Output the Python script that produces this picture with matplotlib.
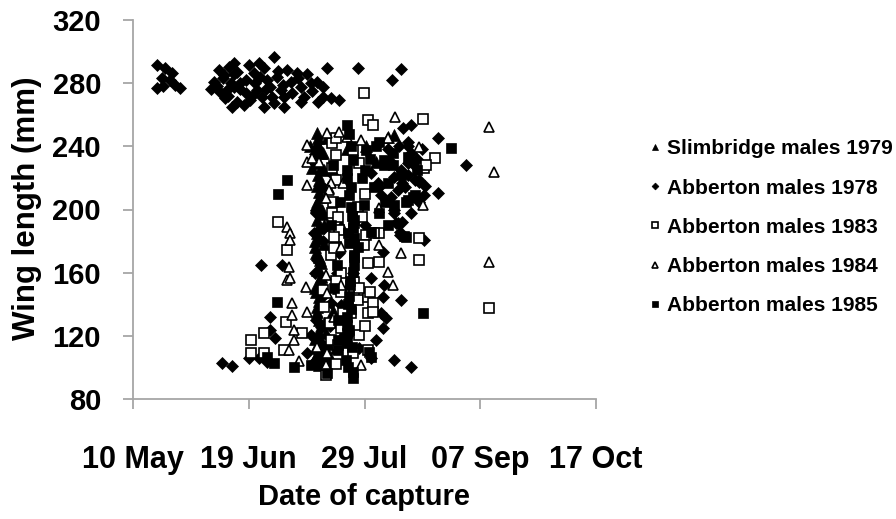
import matplotlib
matplotlib.use("Agg")
from matplotlib import pyplot as plt

plt.rcParams['font.family'] = ['Liberation Sans', 'DejaVu Sans']
plt.rcParams['font.weight'] = 'bold'

# x = days after 10 May, y = wing length (mm)
tick_days = [0, 40, 80, 120, 160]
tick_dates = ['10 May', '19 Jun', '29 Jul', '07 Sep', '17 Oct']
mm_ticks = [80, 120, 160, 200, 240, 280, 320]

slim79_day = [63.7, 64.3, 64.3, 64.3, 64.3, 63.7, 63.7, 63.7, 63.1, 64.9, 64.3, 63.7,
              64.3, 64.3, 63.7, 64.3, 64.3, 63.7, 64.9, 64.3, 67.2, 65.5, 66.0, 65.2,
              62.8, 66.0, 65.0, 62.9, 66.0, 63.0, 66.5, 62.5, 68.0, 70.0, 72.0, 69.0,
              71.0, 72.0, 74.0, 80.5, 84.0, 88.0, 90.3, 66.0, 67.5, 61.0, 62.0,
              64.0, 63.5, 64.8, 63.2, 65.0, 64.0, 63.6, 64.6, 63.4, 65.2, 63.8, 64.4,
              63.0, 64.7, 63.9, 65.1, 63.3, 64.2, 63.7, 64.9, 63.5, 64.1, 63.8,
              66.5, 67.3, 66.8, 67.6]
slim79_mm = [248.2, 239.8, 229.2, 218.7, 211.3, 204.9, 193.3, 184.9, 172.3, 165.9, 170.1, 161.7,
             153.3, 144.8, 138.4, 130.0, 122.6, 114.2, 106.8, 101.5, 245.0, 236.0, 225.0, 200.0,
             180.0, 178.0, 158.0, 150.0, 128.0, 118.0, 110.0, 105.0, 104.0, 112.0, 120.0, 136.0,
             150.0, 190.0, 238.0, 240.0, 230.0, 246.0, 247.0, 190.0, 214.0, 240.0, 226.0,
             245.0, 242.0, 236.0, 232.0, 226.0, 222.0, 215.0, 208.0, 202.0, 197.0, 188.0, 182.0,
             176.0, 168.0, 163.0, 157.0, 148.0, 142.0, 135.0, 126.0, 119.0, 110.0, 103.0,
             103.0, 115.0, 122.0, 108.0]

abb78_day = [8.3, 11.1, 13.5, 10.1, 12.8, 8.3, 10.4, 14.6, 16.3,
             27.9, 29.6, 31.3, 33.1, 34.8, 36.0, 33.7, 30.2, 31.9, 34.2, 38.3, 40.0, 41.7,
             43.5, 45.2, 46.4, 48.7, 47.5, 49.9, 51.0, 52.1, 53.3, 54.5, 56.8, 57.9, 59.1,
             61.4, 63.7, 65.5, 67.2, 65.5, 68.3, 71.2, 38.9, 40.6, 42.9, 44.6, 45.2, 48.7,
             52.1, 37.1, 34.8, 32.5, 77.7, 89.5, 92.6,
             29.0, 31.0, 35.0, 37.0, 39.0, 42.0, 44.0, 46.0, 50.0, 52.0, 55.0, 57.0, 60.0,
             62.0, 64.0, 58.0, 48.0, 41.0, 36.0, 33.0, 27.0,
             44.1, 51.6, 47.5, 47.3, 48.9, 40.0, 43.5, 46.4, 30.8, 34.2, 63.1, 63.7, 68.3,
             64.9, 61.4, 60.2, 64.9, 71.8, 71.2, 66.0,
             62.8, 65.3, 63.4, 65.6, 62.9, 65.0, 63.2, 65.4, 63.0,
             93.2, 96.1, 105.4, 115.2, 105.4, 100.7, 99.0, 90.3, 92.6, 94.9, 97.3, 91.5,
             96.1, 82.2, 84.5, 85.7, 90.3, 91.5, 92.1, 100.7, 99.0, 90.3, 90.9, 92.1, 85.1,
             94.9, 88.0, 92.0, 97.0, 94.0, 80.0,
             89.0, 93.0, 95.0, 98.0, 99.0, 96.0, 93.0, 89.0, 95.0, 100.0, 101.0,
             82.2, 86.8, 86.3, 92.6, 85.7, 87.4, 86.3, 84.0, 82.2, 90.3, 96.1, 86.3, 76.0,
             74.0, 78.0, 62.5, 65.5, 63.5, 69.0, 70.5, 68.0]
abb78_mm = [291.5, 289.6, 286.4, 283.3, 282.0, 277.0, 278.2, 278.8, 277.0,
            281.0, 288.3, 285.2, 290.4, 292.5, 287.3, 280.0, 274.6, 270.4, 265.1, 266.2, 291.5, 286.2,
            292.5, 289.4, 282.0, 296.8, 277.8, 284.1, 275.7, 271.4, 288.3, 281.0, 286.2, 277.8, 271.4,
            280.0, 281.0, 277.8, 289.4, 271.4, 270.4, 269.3, 273.5, 269.3, 275.7, 271.4, 265.1, 267.2,
            265.1, 280.0, 277.8, 275.7, 289.6, 282.0, 288.9,
            278.0, 283.0, 286.0, 276.0, 282.0, 280.0, 284.0, 276.0, 288.0, 279.0, 274.0, 283.0, 286.0,
            275.0, 268.0, 268.0, 271.0, 272.0, 268.0, 272.0, 276.0,
            164.8, 164.8, 132.1, 123.7, 118.4, 105.8, 105.8, 103.6, 102.6, 100.9, 197.6, 168.0, 140.5,
            125.8, 120.5, 108.9, 152.2, 139.5, 172.3, 188.0,
            235.0, 215.0, 200.0, 180.0, 160.0, 145.0, 130.0, 115.0, 104.0,
            251.4, 253.5, 245.0, 228.2, 210.2, 209.2, 218.7, 220.8, 225.0, 229.2, 218.7, 212.3,
            235.6, 222.9, 216.5, 209.2, 197.6, 191.3, 183.8, 180.7, 217.7, 199.7, 191.3, 186.0, 214.4,
            243.0, 238.0, 240.0, 228.0, 214.0, 190.0,
            230.0, 217.0, 222.0, 232.0, 205.0, 198.0, 192.0, 208.0, 240.0, 238.0, 215.0,
            156.4, 152.2, 144.8, 142.7, 134.3, 131.1, 124.7, 117.4, 105.8, 104.7, 100.5, 173.3, 160.0,
            120.0, 112.0, 185.0, 145.0, 110.0, 222.0, 160.0, 126.0]

abb83_day = [79.9, 81.1, 82.8, 100.2, 122.9, 50.1, 53.3, 40.8, 45.2, 40.8, 45.2, 52.7,
             58.5, 52.1, 68.9, 70.1, 68.9, 70.1, 68.9, 75.9, 78.2, 77.6, 76.4, 71.2,
             70.1, 80.5, 85.1, 99.0, 99.0, 104.2, 100.7, 68.3, 81.1, 85.1, 69.5, 69.5,
             101.3, 83.4, 79.9, 76.4, 76.4, 77.6, 81.1, 82.8, 81.1, 82.8, 75.3, 78.2,
             81.1, 75.9, 65.5, 71.8, 66.0, 72.4, 68.3, 70.7, 66.6,
             70.0, 69.0, 71.0, 72.0, 70.0, 68.0, 72.0, 70.0, 79.0, 80.0, 78.0, 82.0, 80.0]
abb83_mm = [274.0, 256.7, 253.5, 257.1, 137.4, 192.3, 174.3, 117.4, 121.6, 108.9, 108.9, 128.9,
            121.6, 111.0, 241.8, 234.5, 226.0, 218.7, 197.6, 237.7, 229.2, 201.8, 191.3, 187.0,
            176.5, 183.8, 184.9, 181.8, 168.0, 232.4, 226.0, 171.2, 165.9, 166.9, 182.8, 175.4,
            228.2, 184.9, 177.5, 154.3, 147.9, 142.7, 144.8, 140.5, 134.3, 135.3, 134.3, 120.5,
            111.0, 108.9, 149.0, 147.9, 138.4, 134.3, 117.4, 114.2, 95.2,
            245.0, 205.0, 195.0, 160.0, 155.0, 128.0, 125.0, 102.0, 195.0, 210.0, 150.0, 148.0, 126.0]

abb84_day = [60.0, 60.0, 60.0, 53.3, 54.2, 54.2, 53.3, 55.1, 60.2, 55.1, 55.6, 55.6,
             53.9, 59.7, 53.9, 54.2, 90.5, 122.9, 124.8, 122.9, 67.2, 71.2, 74.1, 78.8,
             88.0, 99.0, 64.3, 85.1, 100.2, 92.6, 84.9, 88.0, 90.0, 78.8, 62.0, 68.3,
             67.8, 66.6, 72.4, 71.8, 66.6, 67.2, 71.8, 69.5, 63.7, 67.2, 66.6, 57.5]
abb84_mm = [240.8, 230.3, 215.5, 189.1, 185.0, 180.7, 155.4, 140.8, 135.3, 133.2, 123.7, 117.4,
            111.0, 151.1, 163.7, 156.4, 258.4, 252.4, 223.9, 166.9, 248.2, 249.3, 246.1, 244.0,
            245.0, 239.8, 230.3, 200.7, 202.8, 172.3, 177.5, 160.6, 152.2, 101.5, 232.4, 216.6,
            212.3, 207.0, 216.6, 176.5, 158.5, 146.9, 152.2, 132.1, 113.2, 108.9, 101.5, 104.0]

abb85_day = [53.1, 50.1, 49.8, 46.4, 48.7, 55.6, 61.4, 67.2, 74.1, 110.0, 85.1, 86.8,
             80.5, 75.9, 74.1, 75.3, 74.7, 75.3, 76.4, 74.7, 77.6, 76.4, 79.9, 94.9,
             97.3, 93.8, 90.3, 86.8, 94.9, 92.6, 96.7, 94.4, 82.2, 76.4, 94.4, 88.0,
             83.4, 100.2, 75.9, 74.1, 74.1, 74.1, 74.1, 75.9, 76.4, 81.6, 82.2, 70.7,
             70.7, 70.7, 74.5, 75.0, 73.5, 76.0, 79.0, 90.0, 98.0,
             74.6, 75.2, 74.0, 75.8, 74.4, 76.2, 75.0, 74.3, 75.5, 74.8, 75.7, 74.2, 76.0,
             82.0, 84.0, 80.0, 85.0, 87.0, 90.0, 88.0,
             69.0, 71.5, 68.5, 70.5, 69.5]
abb85_mm = [218.7, 209.8, 141.6, 106.8, 102.6, 100.5, 101.5, 96.2, 253.5, 238.7, 243.0, 228.2,
            237.7, 231.3, 225.0, 214.4, 209.2, 201.8, 193.3, 178.6, 176.5, 170.1, 202.8, 206.0,
            209.2, 183.0, 202.8, 231.3, 233.5, 221.8, 208.1, 204.9, 186.0, 181.8, 182.7, 216.5,
            214.4, 134.3, 93.1, 132.1, 127.0, 121.6, 115.3, 160.6, 171.2, 110.0, 106.8, 130.0,
            117.4, 111.0, 145.0, 152.0, 105.0, 188.0, 220.0, 236.0, 225.0,
            248.0, 240.0, 220.0, 196.0, 185.0, 165.0, 155.0, 140.0, 137.0, 124.0, 113.0, 100.0, 97.0,
            232.0, 240.0, 225.0, 198.0, 205.0, 228.0, 190.0,
            228.0, 205.0, 190.0, 165.0, 150.0]

fig = plt.figure(figsize=(8.96, 5.19), dpi=100)
ax = fig.add_axes([133 / 896, 1 - 399 / 519, (596 - 133) / 896, (399 - 20) / 519])

ax.plot(slim79_day, slim79_mm, ls='none', marker='^', ms=8, mfc='black', mec='black', mew=0.5,
        label='Slimbridge males 1979')
ax.plot(abb78_day, abb78_mm, ls='none', marker='D', ms=6.3, mfc='black', mec='black', mew=0.5,
        label='Abberton males 1978')
ax.plot(abb83_day, abb83_mm, ls='none', marker='s', ms=7.2, mfc='white', mec='black', mew=1.2,
        label='Abberton males 1983')
ax.plot(abb84_day, abb84_mm, ls='none', marker='^', ms=7.8, mfc='white', mec='black', mew=1.2,
        label='Abberton males 1984')
ax.plot(abb85_day, abb85_mm, ls='none', marker='s', ms=7.6, mfc='black', mec='black', mew=0.5,
        label='Abberton males 1985')

ax.set_xlim(0, 160)
ax.set_ylim(80, 320)
ax.set_xticks(tick_days)
ax.set_xticklabels(tick_dates)
ax.set_yticks(mm_ticks)

for s in ['top', 'right']:
    ax.spines[s].set_visible(False)
for s in ['left', 'bottom']:
    ax.spines[s].set_color('#a6a6a6')
    ax.spines[s].set_linewidth(1.3)
ax.tick_params(axis='both', color='#a6a6a6', width=1.3, length=7)
ax.tick_params(axis='x', pad=26, labelsize=22)
ax.tick_params(axis='y', pad=16, labelsize=21)

ax.set_xlabel('Date of capture', fontsize=21, fontweight='bold', labelpad=6)
fig.text(27 / 896, 1 - 208 / 519, 'Wing length (mm)', rotation=90, ha='center', va='center',
         fontsize=22.5, fontweight='bold')

fig.legend(loc='upper left', bbox_to_anchor=(640 / 896, 1 - 131 / 519), frameon=False,
           fontsize=15, markerscale=0.55, handlelength=0.6, handletextpad=0.3,
           labelspacing=0.97, borderaxespad=0)

fig.savefig('out.png', dpi=100)
